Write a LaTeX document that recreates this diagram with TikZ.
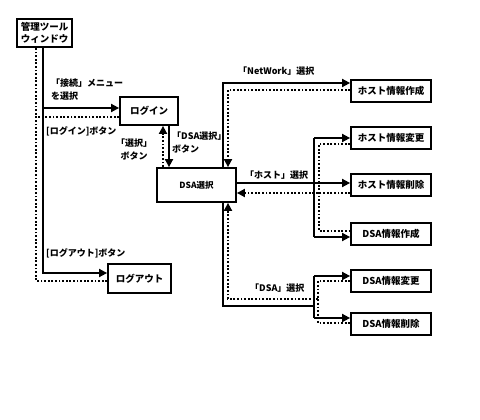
\documentclass[tikz,border=0pt]{standalone}
\usepackage{fontspec}
\setmainfont{Noto Sans CJK JP}
\usetikzlibrary{arrows.meta}
\begin{document}
\begin{tikzpicture}[x=1pt,y=-1pt,
  box/.style={draw,line width=1.8pt,inner sep=0pt,font=\bfseries\fontsize{9.5}{12}\selectfont,align=center},
  lab/.style={inner sep=0pt,font=\bfseries\fontsize{9}{13}\selectfont},
  sol/.style={line width=1.8pt},
  dot/.style={line width=1.8pt,dash pattern=on 1.8pt off 1.8pt},
  tip/.style={-{Triangle[length=8pt,width=8pt]}}]
\useasboundingbox[fill=white] (0,0) rectangle (480,420);
% boxes
\node[box,minimum width=55pt,minimum height=28pt] (win) at (44.5,33) {管理ツール\\ウィンドウ};
\node[box,minimum width=58pt,minimum height=28pt] (login) at (149,111) {ログイン};
\node[box,minimum width=79pt,minimum height=34pt,font=\bfseries\fontsize{8.5}{11}\selectfont] (dsa) at (196.5,185) {DSA選択};
\node[box,minimum width=63pt,minimum height=29pt] (logout) at (139.5,278.5) {ログアウト};
\node[box,minimum width=80pt,minimum height=22pt] (h1) at (391,91) {ホスト情報作成};
\node[box,minimum width=80pt,minimum height=22pt] (h2) at (391,138) {ホスト情報変更};
\node[box,minimum width=80pt,minimum height=22pt] (h3) at (391,185) {ホスト情報削除};
\node[box,minimum width=80pt,minimum height=22pt] (d1) at (391,234) {DSA情報作成};
\node[box,minimum width=80pt,minimum height=22pt] (d2) at (391,281) {DSA情報変更};
\node[box,minimum width=80pt,minimum height=22pt] (d3) at (391,324) {DSA情報削除};
% helper x positions
\coordinate (xs) at (43,0);
\coordinate (xd) at (36,0);
\coordinate (xa) at (223,0);
\coordinate (xb) at (228,0);
\coordinate (xj) at (314,0);
\coordinate (xk) at (319,0);
\coordinate (xm) at (318,0);
% end points on boxes
\coordinate (liS) at ([yshift=3pt]login.west);
\coordinate (liD) at ([yshift=-6pt]login.west);
\coordinate (loS) at ([yshift=5.5pt]logout.west);
\coordinate (loD) at ([yshift=-2.5pt]logout.west);
\coordinate (lbS) at ([xshift=20pt]login.south);
\coordinate (lbD) at ([xshift=14pt]login.south);
\coordinate (h1S) at ([yshift=8pt]h1.west);
\coordinate (h1D) at ([yshift=1pt]h1.west);
\coordinate (h2D) at ([yshift=-6pt]h2.west);
\coordinate (h3S) at ([yshift=2pt]h3.west);
\coordinate (h3D) at ([yshift=-8pt]h3.west);
\coordinate (d1S) at ([yshift=-3pt]d1.west);
\coordinate (d1D) at ([yshift=3pt]d1.west);
\coordinate (d2S) at ([yshift=5pt]d2.west);
\coordinate (d3S) at ([yshift=6pt]d3.west);
\coordinate (d3D) at ([yshift=1pt]d3.west);
\coordinate (jm) at (314,306);
\coordinate (dm) at (318,299);
% left column
\draw[sol,tip] (win.south -| xs) -- (loS -| xs) -- (loS);
\draw[sol,tip] (liS -| xs) -- (liS);
\draw[dot] (loD) -- (loD -| xd) -- (win.south -| xd);
\draw[dot] (liD) -- (liD -| xd);
% login <-> dsa
\draw[sol,tip] (lbS) -- (lbS |- dsa.north);
\draw[dot,tip] (lbD |- dsa.north) -- (lbD);
% top: NetWork
\draw[sol,tip] (dsa.north -| xa) -- (h1S -| xa) -- (h1S);
\draw[dot,tip] (h1D) -- (h1D -| xb) -- (dsa.north -| xb);
% middle: host
\draw[sol,tip] (h3S -| dsa.east) -- (h3S);
\draw[dot,tip] (h3D) -- (h3D -| dsa.east);
\draw[sol,tip] (h2.west -| xj) -- (h2.west);
\draw[sol] (h2.west -| xj) -- (d1S -| xj);
\draw[sol,tip] (d1S -| xj) -- (d1S);
\draw[dot] (h2D) -- (h2D -| xk) -- (d1D -| xk) -- (d1D);
% bottom: DSA
\draw[sol] (dsa.south -| xa) -- (jm -| xa) -- (jm);
\draw[sol,tip] (d2S -| xj) -- (d2S);
\draw[sol] (d2S -| xj) -- (d3S -| xj);
\draw[sol,tip] (d3S -| xj) -- (d3S);
\draw[dot] (d2.west) -- (d2.west -| xm) -- (d3D -| xm) -- (d3D);
\draw[dot,tip] (dm) -- (dm -| xb) -- (dsa.south -| xb);
% labels
\node[lab,anchor=west,align=left] (l1) at (51,90) {「接続」メニュー\\を選択};
\node[lab,anchor=west] (l2) at (46,131) {[ログイン]ボタン};
\node[lab,align=center] (l3) at (134,150) {「選択」\\ボタン};
\node[lab,anchor=west,align=left] (l4) at (172,143) {「DSA選択」\\ボタン};
\node[lab,anchor=west] (l5) at (46,253) {[ログアウト]ボタン};
\node[lab,anchor=west] (l6) at (238,71) {「NetWork」選択};
\node[lab,anchor=west] (l7) at (245,175) {「ホスト」選択};
\node[lab,anchor=west] (l8) at (250,288) {「DSA」選択};
\end{tikzpicture}
\end{document}
